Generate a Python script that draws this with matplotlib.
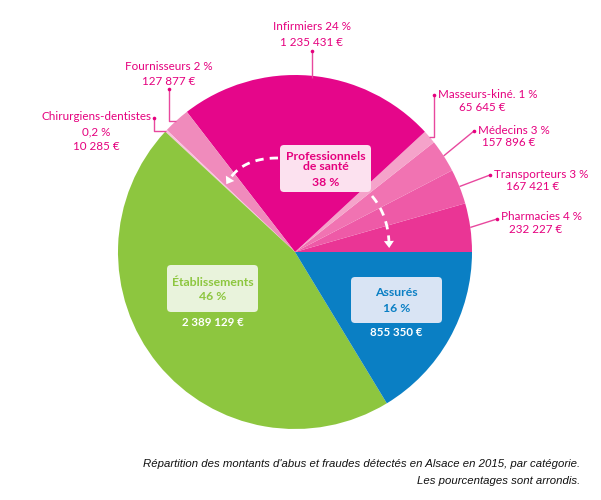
import matplotlib
matplotlib.use("Agg")
import matplotlib.pyplot as plt
from matplotlib.patches import FancyBboxPatch, Polygon
import numpy as np

# Abuse and fraud amounts detected in Alsace in 2015, by category (euros)
categories = ["Pharmacies", "Transporteurs", "Médecins", "Masseurs-kiné.",
              "Infirmiers", "Fournisseurs", "Chirurgiens-dentistes",
              "Établissements", "Assurés"]
amounts = [232227, 167421, 157896, 65645, 1235431, 127877, 10285,
           2389129, 855350]
percent_labels = ["4 %", "3 %", "3 %", "1 %", "24 %", "2 %", "0,2 %",
                  "46 %", "16 %"]
group_label = "Professionnels\nde santé"
group_percent = "38 %"

colors = ["#EA3595", "#EE5AA7", "#F173B2", "#F5A3CA", "#E5068A",
          "#F08BBC", "#F8C2DC", "#8DC63F", "#0A7FC4"]

PINK = "#E5007E"
W, H = 601, 500
FONT = ["Lato", "DejaVu Sans"]


def Y(y):
    return H - y


def euro(v):
    return f"{v:,}".replace(",", " ") + " €"


fig = plt.figure(figsize=(W / 100, H / 100), dpi=100)
ax = fig.add_axes([0, 0, 1, 1])

cx, cy, r = 295, 252, 177
wedges, _ = ax.pie(amounts, colors=colors, startangle=0, counterclock=True,
                   center=(cx, Y(cy)), radius=r, frame=True,
                   wedgeprops=dict(linewidth=0))
ax.set_xlim(0, W)
ax.set_ylim(0, H)
ax.set_aspect("equal")
ax.axis("off")


def edge_point(i):
    w = wedges[i]
    a = np.deg2rad((w.theta1 + w.theta2) / 2)
    return cx + r * np.cos(a), cy - r * np.sin(a)


# Outside labels for the health-professional categories
# (index, text centre x, first line y, line gap, dot position, elbow)
outside = [
    (4, 312, 27, 16, (312, 51), "v"),
    (5, 169, 67, 14.5, (169, 89), "v"),
    (6, 96, 117, 14.5, (154, 118), "v"),
    (3, 482, 95, 12.5, (434, 95), "v"),
    (2, 509, 130, 12.5, (474, 131), None),
    (1, 533, 174, 12.5, (490, 175), None),
    (0, 536, 217, 12.5, (497, 219), None),
]
lc = "#E8489E"
for i, tx, ty, gap, dot, elbow in outside:
    ex, ey = edge_point(i)
    if elbow == "v":
        xs = [dot[0], dot[0], ex]
        ys = [dot[1], ey, ey]
        if i == 4:
            xs, ys = [dot[0], dot[0]], [dot[1], ey + 2]
    else:
        xs, ys = [dot[0], ex], [dot[1], ey]
    ax.plot(xs, [Y(v) for v in ys], color=lc, lw=1.0, solid_capstyle="butt")
    ax.plot([dot[0]], [Y(dot[1])], "o", ms=2.6, color=PINK, mec="none")
    name = categories[i]
    if i == 6:
        lines = [name, percent_labels[i], euro(amounts[i])]
        ax.text(151, Y(ty), lines[0], ha="right", va="center",
                color=PINK, fontsize=8.4, family=FONT)
        for k, t in enumerate(lines[1:], start=1):
            ax.text(tx, Y(ty + k * gap), t, ha="center", va="center",
                    color=PINK, fontsize=8.4, family=FONT)
        continue
    if i in (3, 2, 1, 0):
        ax.text(dot[0] + 4, Y(ty), f"{name} {percent_labels[i]}", ha="left",
                va="center", color=PINK, fontsize=8.4, family=FONT)
    else:
        ax.text(tx, Y(ty), f"{name} {percent_labels[i]}", ha="center",
                va="center", color=PINK, fontsize=8.4, family=FONT)
    ax.text(tx, Y(ty + gap), euro(amounts[i]), ha="center", va="center",
            color=PINK, fontsize=8.4, family=FONT)


def box(x0, y0, x1, y1, fc):
    p = FancyBboxPatch((x0, Y(y1)), x1 - x0, y1 - y0,
                       boxstyle="round,pad=0,rounding_size=4",
                       fc=fc, ec="none", zorder=3)
    ax.add_patch(p)


# Inside boxes
box(280, 145, 371, 192, "#FCE1EF")
ax.text(325.5, Y(161.5), group_label, ha="center", va="center", color=PINK,
        fontsize=8.8, fontweight="bold", family=FONT, linespacing=1.0, zorder=4)
ax.text(325.5, Y(182), group_percent, ha="center", va="center", color=PINK,
        fontsize=8.8, fontweight="bold", family=FONT, zorder=4)

box(167, 265, 258, 312, "#E9F3DC")
ax.text(212.5, Y(282), categories[7], ha="center", va="center",
        color="#8DC63F", fontsize=8.8, fontweight="bold", family=FONT, zorder=4)
ax.text(212.5, Y(297), percent_labels[7], ha="center", va="center",
        color="#8DC63F", fontsize=8.8, fontweight="bold", family=FONT, zorder=4)
ax.text(213, Y(322), euro(amounts[7]), ha="center", va="center",
        color="white", fontsize=8.3, fontweight="bold", family=FONT, zorder=4)

box(351, 277, 442, 323, "#D9E4F4")
ax.text(396.5, Y(293), categories[8], ha="center", va="center",
        color="#0A7FC4", fontsize=8.8, fontweight="bold", family=FONT, zorder=4)
ax.text(396.5, Y(308), percent_labels[8], ha="center", va="center",
        color="#0A7FC4", fontsize=8.8, fontweight="bold", family=FONT, zorder=4)
ax.text(396, Y(332), euro(amounts[8]), ha="center", va="center",
        color="white", fontsize=8.3, fontweight="bold", family=FONT, zorder=4)


# Dashed white arrows from the group box
def dashed_arrow(p0, pc, p1):
    t = np.linspace(0, 1, 60)
    P0, PC, P1 = map(np.array, (p0, pc, p1))
    pts = ((1 - t)[:, None] ** 2 * P0 + 2 * ((1 - t) * t)[:, None] * PC
           + (t ** 2)[:, None] * P1)
    ax.plot(pts[:, 0], [Y(v) for v in pts[:, 1]], color="white", lw=2.0,
            ls=(0, (3, 2.2)), zorder=5, solid_capstyle="butt",
            dash_capstyle="butt")
    d = P1 - PC
    d = d / np.linalg.norm(d)
    n = np.array([-d[1], d[0]])
    tip = P1 + d * 5
    base = P1 - d * 2
    tri = [tip, base + n * 5, base - n * 5]
    ax.add_patch(Polygon([(x, Y(y)) for x, y in tri], closed=True,
                         fc="white", ec="none", zorder=5))


dashed_arrow((278, 158), (243, 158), (229, 180))
dashed_arrow((372, 196), (388, 215), (389, 243))

# Caption
cap_font = ["Liberation Sans", "DejaVu Sans"]
ax.text(580, Y(464), "Répartition des montants d'abus et fraudes détectés en "
        "Alsace en 2015, par catégorie.", ha="right", va="center",
        fontsize=8.2, style="italic", family=cap_font, color="#111111")
ax.text(580, Y(481), "Les pourcentages sont arrondis.", ha="right",
        va="center", fontsize=8.2, style="italic", family=cap_font,
        color="#111111")

fig.savefig("out.png", dpi=100)
